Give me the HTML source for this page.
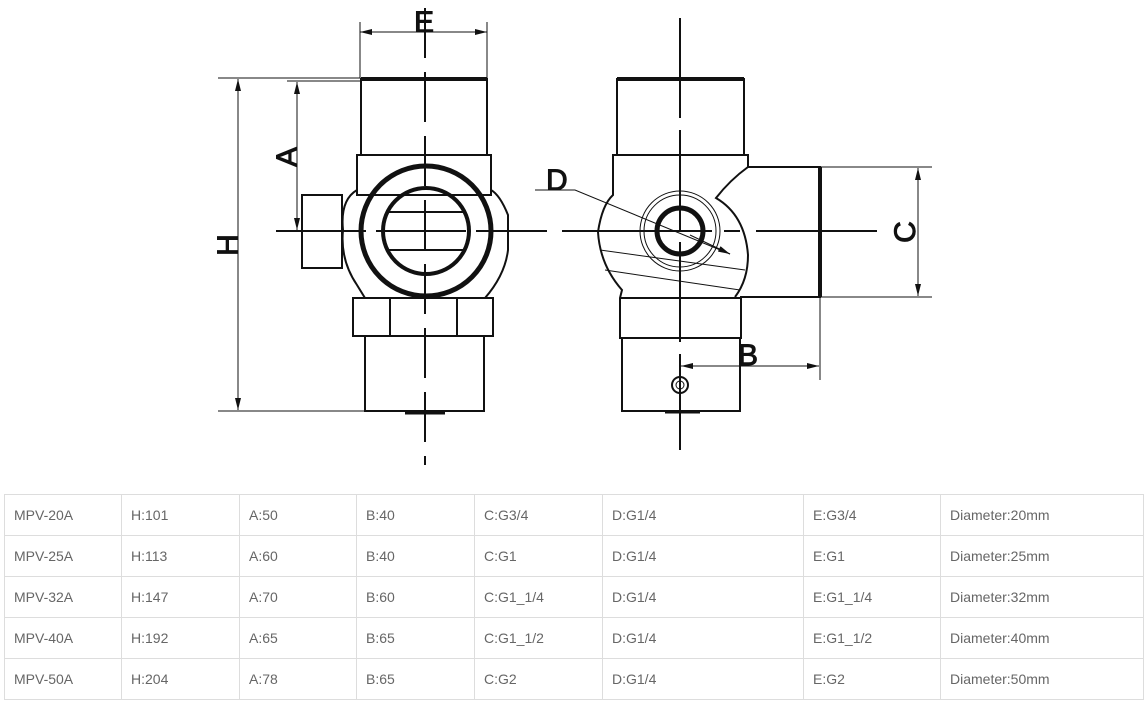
<!DOCTYPE html>
<html><head><meta charset="utf-8"><style>
body{margin:0;width:1148px;height:704px;background:#fff;overflow:hidden;position:relative;font-family:"Liberation Sans",sans-serif}
svg{position:absolute;left:0;top:0}
table{position:absolute;left:4px;top:494px;border-collapse:collapse;font-size:14px;color:#666}
td{border:1px solid #ddd;height:41px;padding:0 0 0 9px;box-sizing:border-box}
</style></head><body>
<svg width="1148" height="490" viewBox="0 0 1148 490">
<defs><marker id="ar" markerWidth="12" markerHeight="6" refX="12" refY="3" orient="auto" markerUnits="userSpaceOnUse"><path d="M0,0 L12,3 L0,6z" fill="#111"/></marker></defs>
<g stroke="#111" fill="none" stroke-width="1">
<line x1="360" y1="22" x2="360" y2="78"/><line x1="487" y1="22" x2="487" y2="78"/>
<line x1="424" y1="32" x2="360" y2="32" marker-end="url(#ar)"/><line x1="424" y1="32" x2="487" y2="32" marker-end="url(#ar)"/>
<line x1="218" y1="78" x2="360" y2="78"/><line x1="218" y1="411" x2="365" y2="411"/>
<line x1="238" y1="245" x2="238" y2="79" marker-end="url(#ar)"/><line x1="238" y1="245" x2="238" y2="410" marker-end="url(#ar)"/>
<line x1="287" y1="81" x2="360" y2="81"/>
<line x1="297" y1="150" x2="297" y2="82" marker-end="url(#ar)"/><line x1="297" y1="150" x2="297" y2="230" marker-end="url(#ar)"/>
<g stroke-width="2">
<rect x="361" y="79" width="126" height="76"/>
<rect x="357" y="155" width="134" height="40"/>
<rect x="302" y="195" width="40" height="73"/>
<path d="M357,190 Q340,200 343,230 Q340,260 357,285 L365,298 L485,298 Q505,275 508,250 L508,215 Q500,195 491,190"/>
<rect x="353" y="298" width="140" height="38"/>
<line x1="390" y1="298" x2="390" y2="336"/><line x1="457" y1="298" x2="457" y2="336"/>
<rect x="365" y="336" width="119" height="75"/>
</g>
<line x1="361" y1="79" x2="487" y2="79" stroke-width="4"/>
<line x1="405" y1="413" x2="445" y2="413" stroke-width="3"/>
<circle cx="426" cy="231" r="65" stroke-width="5"/>
<circle cx="426" cy="231" r="43" stroke-width="4"/>
<line x1="387" y1="212" x2="465" y2="212" stroke-width="2"/><line x1="387" y1="250" x2="465" y2="250" stroke-width="2"/>
<line x1="425" y1="8" x2="425" y2="465" stroke-width="2" stroke-dasharray="50,14"/>
<line x1="276" y1="231" x2="547" y2="231" stroke-width="2" stroke-dasharray="90,10"/>
<g stroke-width="2">
<rect x="617" y="79" width="127" height="76"/>
<path d="M613,155 L748,155 L748,167 L820,167 L820,297 L741,297 L741,338 L620,338 L620,298 L622,290 Q600,265 598,232 Q602,205 613,195 Z"/>
<path d="M748,167 Q730,180 716,198 Q745,215 748,255 Q748,280 735,297"/>
<line x1="620" y1="298" x2="741" y2="298"/>
<rect x="622" y="338" width="118" height="73"/>
</g>
<line x1="617" y1="79" x2="744" y2="79" stroke-width="4"/>
<line x1="820" y1="167" x2="820" y2="297" stroke-width="4"/>
<line x1="665" y1="412" x2="700" y2="412" stroke-width="3"/>
<line x1="600" y1="250" x2="745" y2="270"/><line x1="605" y1="270" x2="740" y2="290"/>
<circle cx="680" cy="231" r="40"/><circle cx="680" cy="231" r="36"/>
<circle cx="680" cy="231" r="23" stroke-width="5"/>
<circle cx="680" cy="385" r="8" stroke-width="2"/><circle cx="680" cy="385" r="4"/>
<line x1="680" y1="18" x2="680" y2="450" stroke-width="2" stroke-dasharray="100,12"/>
<line x1="530" y1="231" x2="877" y2="231" stroke-width="2" stroke-dasharray="16,16,150,12"/>
<line x1="820" y1="167" x2="932" y2="167"/><line x1="740" y1="297" x2="932" y2="297"/>
<line x1="918" y1="232" x2="918" y2="168" marker-end="url(#ar)"/><line x1="918" y1="232" x2="918" y2="296" marker-end="url(#ar)"/>
<line x1="820" y1="297" x2="820" y2="380"/>
<line x1="750" y1="366" x2="681" y2="366" marker-end="url(#ar)"/><line x1="750" y1="366" x2="819" y2="366" marker-end="url(#ar)"/>
<polyline points="535,190 575,190 730,254"/>
<line x1="690" y1="235" x2="730" y2="254" marker-end="url(#ar)"/>
</g>
<g font-family="Liberation Sans,sans-serif" font-size="30" fill="#111" stroke="#111" stroke-width="1">
<text x="424" y="32" text-anchor="middle">E</text>
<text x="546" y="190">D</text>
<text x="738" y="365">B</text>
<text transform="translate(297,157) rotate(-90)" text-anchor="middle">A</text>
<text transform="translate(238,245) rotate(-90)" text-anchor="middle">H</text>
<text transform="translate(915,232) rotate(-90)" text-anchor="middle">C</text>
</g>
</svg>
<table>
<colgroup><col style="width:117px"><col style="width:118px"><col style="width:117px"><col style="width:118px"><col style="width:128px"><col style="width:201px"><col style="width:137px"><col style="width:203px"></colgroup>
<tr><td>MPV-20A</td><td>H:101</td><td>A:50</td><td>B:40</td><td>C:G3/4</td><td>D:G1/4</td><td>E:G3/4</td><td>Diameter:20mm</td></tr>
<tr><td>MPV-25A</td><td>H:113</td><td>A:60</td><td>B:40</td><td>C:G1</td><td>D:G1/4</td><td>E:G1</td><td>Diameter:25mm</td></tr>
<tr><td>MPV-32A</td><td>H:147</td><td>A:70</td><td>B:60</td><td>C:G1_1/4</td><td>D:G1/4</td><td>E:G1_1/4</td><td>Diameter:32mm</td></tr>
<tr><td>MPV-40A</td><td>H:192</td><td>A:65</td><td>B:65</td><td>C:G1_1/2</td><td>D:G1/4</td><td>E:G1_1/2</td><td>Diameter:40mm</td></tr>
<tr><td>MPV-50A</td><td>H:204</td><td>A:78</td><td>B:65</td><td>C:G2</td><td>D:G1/4</td><td>E:G2</td><td>Diameter:50mm</td></tr>
</table>
</body></html>
